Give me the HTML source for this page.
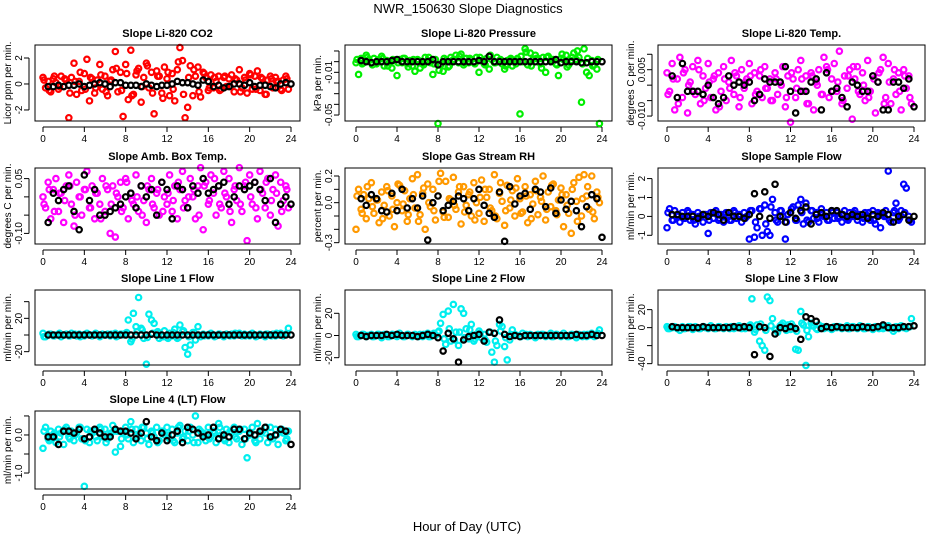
<!DOCTYPE html>
<html><head><meta charset="utf-8"><style>
html,body{margin:0;padding:0;background:#fff;}
svg{display:block;font-family:"Liberation Sans",sans-serif;}
</style></head><body>
<svg id="chart" width="936" height="540" viewBox="0 0 936 540">
<text x="468" y="13" text-anchor="middle" font-size="13">NWR_150630  Slope Diagnostics</text>
<text x="467" y="531" text-anchor="middle" font-size="13">Hour of Day (UTC)</text>
</svg>
<script>
const hoursColored = [0,0.25,0.5,0.75,1,1.25,1.5,1.75,2,2.25,2.5,2.75,3,3.25,3.5,3.75,4,4.25,4.5,4.75,5,5.25,5.5,5.75,6,6.25,6.5,6.75,7,7.25,7.5,7.75,8,8.25,8.5,8.75,9,9.25,9.5,9.75,10,10.25,10.5,10.75,11,11.25,11.5,11.75,12,12.25,12.5,12.75,13,13.25,13.5,13.75,14,14.25,14.5,14.75,15,15.25,15.5,15.75,16,16.25,16.5,16.75,17,17.25,17.5,17.75,18,18.25,18.5,18.75,19,19.25,19.5,19.75,20,20.25,20.5,20.75,21,21.25,21.5,21.75,22,22.25,22.5,22.75,23,23.25,23.5,23.75];
const hoursBlack = [0.5,1,1.5,2,2.5,3,3.5,4,4.5,5,5.5,6,6.5,7,7.5,8,8.5,9,9.5,10,10.5,11,11.5,12,12.5,13,13.5,14,14.5,15,15.5,16,16.5,17,17.5,18,18.5,19,19.5,20,20.5,21,21.5,22,22.5,23,23.5,24];
const hoursExtra = [0.1,0.6,1.1,1.6,2.1,2.6,3.1,3.6,4.1,4.6,5.1,5.6,6.1,6.6,7.1,7.6,8.1,8.6,9.1,9.6,10.1,10.6,11.1,11.6,12.1,12.6,13.1,13.6,14.1,14.6,15.1,15.6,16.1,16.6,17.1,17.6,18.1,18.6,19.1,19.6,20.1,20.6,21.1,21.6,22.1,22.6,23.1,23.6];
const xTicks = [0,4,8,12,16,20,24];

const co2Colored = [0.5,-0.3,0.2,-0.6,0.4,0.1,-0.4,0.6,-0.2,0.3,-2.6,0.5,1.6,-0.8,0.2,-0.5,0.8,1.9,-1.3,0.4,-0.7,0.3,1.5,-0.4,0.6,-0.9,0.2,1.1,2.5,-0.6,0.9,-2.5,1.5,-1.2,2.6,-0.8,0.7,1.2,-1.4,0.5,1.6,-0.3,0.9,-2.3,1.0,0.6,-0.7,1.3,0.4,-0.9,0.8,-1.3,1.1,2.8,1.8,-2.6,-1.8,1.4,-0.9,0.6,1.3,-1.0,0.9,0.5,-0.5,0.7,-0.3,0.2,0.6,-0.4,0.5,-0.2,0.4,0.7,-0.6,0.3,1.1,-0.3,0.5,-0.7,0.8,-0.4,0.6,1.0,-0.5,0.4,-0.8,0.3,0.6,-0.3,0.5,0.2,-0.4,0.3,0.6,-0.4];
const co2Extra = [0.3,-0.5,0.6,-0.2,0.4,-0.7,0.2,0.9,-0.4,0.5,-0.3,0.7,-0.6,0.3,1.2,-0.5,0.8,-0.9,1.0,-0.2,1.4,-0.7,0.6,-1.1,0.9,-0.4,1.7,-0.8,0.5,1.1,-0.6,0.8,-0.3,0.5,-0.5,0.6,-0.2,0.4,-0.6,0.3,0.7,-0.4,0.5,-0.8,0.4,0.2,-0.5,0.4];
const co2Black = [-0.2,-0.2,-0.1,-0.2,-0.1,-0.1,0,-0.2,-0.1,0,0.1,0,-0.2,0.1,0.1,-0.1,-0.1,-0.1,-0.2,0,-0.1,-0.2,-0.1,-0.1,0,0.2,0.1,0.1,0,-0.1,0.3,0.2,-0.2,-0.1,-0.3,-0.2,0,0,-0.1,0.1,-0.2,-0.1,-0.1,-0.2,-0.3,0,0.1,0];
const presColored = [-0.001,-0.012,0.003,-0.001,0.006,0.002,-0.001,0.003,-0.002,0.002,0.005,-0.004,0.001,-0.001,-0.006,0.001,-0.013,0.002,-0.001,0.003,-0.002,0.001,-0.004,-0.009,0.002,-0.006,-0.002,0.004,0.001,-0.001,-0.012,0.002,-0.058,-0.003,-0.009,0.001,-0.005,0.004,0.002,0.006,-0.001,0.007,-0.003,0.003,-0.001,0.002,-0.001,0.004,-0.010,0.001,-0.002,0.003,-0.007,0.002,-0.001,0.004,0.001,-0.002,-0.007,0.001,0.002,-0.004,0.001,0.003,-0.049,0.000,0.012,-0.003,0.008,0.002,0.006,0.003,-0.002,0.004,-0.010,0.005,0.001,0.002,-0.002,-0.013,0.003,0.002,0.006,-0.003,0.001,0.008,0.002,0.004,-0.038,0.012,-0.010,-0.013,0.001,-0.003,-0.007,-0.058];
const presExtra = [0.002,-0.002,0.004,-0.003,0.001,0.003,-0.004,0.002,-0.001,0.003,-0.005,0.002,0.001,-0.003,0.004,-0.002,-0.008,0.003,-0.004,0.002,0.005,-0.001,0.003,-0.002,0.004,-0.003,0.006,-0.001,0.002,-0.004,0.003,-0.002,0.005,0.009,-0.004,0.003,-0.006,0.004,0.002,-0.003,0.007,-0.005,0.004,0.010,-0.002,0.003,-0.004,0.002];
const presBlack = [0.001,0.000,-0.001,0.000,0.000,0.000,0.001,0.002,0.000,0.000,0.000,0.000,0.000,0.000,0.002,-0.003,0.000,0.000,0.000,0.000,0.000,0.000,0.000,0.001,0.000,0.005,0.000,0.000,0.000,0.000,0.000,0.000,0.000,0.000,0.000,0.000,0.000,0.000,0.002,-0.001,0.000,0.000,0.000,-0.001,-0.001,0.000,0.000,0.000];
const tempColored = [0.004,-0.002,0.007,-0.008,0.002,0.009,-0.004,0.005,-0.009,0.001,0.006,-0.003,0.008,-0.006,0.003,-0.001,0.007,-0.004,0.002,-0.008,0.004,-0.002,0.006,-0.005,0.001,0.008,-0.003,0.003,-0.007,0.005,-0.001,0.002,0.007,-0.006,0.004,-0.002,0.003,-0.004,0.006,-0.001,0.002,-0.005,0.004,-0.003,0.001,0.006,-0.007,0.003,-0.012,0.002,-0.004,0.005,0.008,-0.002,0.003,-0.006,0.004,-0.008,0.001,0.005,-0.003,0.009,0.006,-0.004,0.002,0.007,-0.002,0.011,-0.006,0.003,-0.001,0.005,-0.011,0.002,0.006,-0.003,0.004,-0.005,0.008,-0.002,0.003,-0.009,0.001,0.005,0.009,-0.004,0.007,-0.006,0.002,-0.003,0.004,-0.008,0.005,-0.001,0.003,-0.006];
const tempExtra = [-0.003,0.002,-0.006,0.004,0.000,-0.002,0.005,-0.005,0.001,0.003,-0.007,0.002,-0.001,0.004,-0.004,0.001,0.003,-0.003,0.005,-0.001,-0.005,0.002,0.000,-0.004,0.004,-0.001,0.002,-0.006,0.003,0.000,-0.003,0.005,-0.002,0.001,-0.005,0.003,0.006,-0.002,0.000,-0.004,0.002,0.004,-0.006,0.001,0.005,-0.002,0.003,-0.004];
const tempBlack = [0.003,-0.004,0.007,-0.002,-0.002,-0.002,-0.003,0.000,-0.004,-0.006,-0.004,0.003,0.000,0.001,0.000,0.001,-0.005,-0.003,0.002,0.001,0.001,0.001,0.006,-0.002,-0.009,-0.002,-0.002,0.001,0.002,-0.008,0.004,-0.002,-0.001,-0.004,-0.007,0.001,0.000,-0.002,-0.002,0.003,0.001,-0.008,-0.008,0.001,0.001,-0.001,0.002,-0.007];
const ambColored = [0.00,-0.03,0.04,-0.06,0.02,0.05,-0.04,0.01,-0.07,0.03,0.06,-0.02,-0.08,0.04,0.00,-0.05,0.02,0.07,-0.03,0.03,-0.06,0.01,-0.02,0.05,-0.04,0.02,-0.10,0.03,-0.11,0.00,0.04,-0.03,0.05,-0.06,0.01,-0.02,0.06,-0.04,0.03,-0.01,-0.07,0.02,0.05,-0.03,0.01,-0.05,0.04,0.00,-0.02,0.06,-0.04,0.03,-0.06,0.02,0.07,-0.01,-0.03,0.05,0.00,-0.06,0.03,0.08,-0.09,0.04,-0.02,0.06,0.01,-0.05,0.03,-0.03,0.07,0.00,0.05,-0.07,0.02,-0.01,0.08,-0.04,0.03,-0.12,0.06,-0.02,0.04,-0.06,0.07,0.01,-0.03,0.05,-0.05,0.02,0.06,-0.08,0.04,-0.01,0.03,-0.03];
const ambExtra = [-0.02,0.02,-0.04,0.01,-0.01,0.03,-0.05,0.00,0.02,-0.03,0.01,-0.06,0.03,-0.02,0.01,-0.04,0.04,-0.01,0.00,-0.05,0.03,-0.02,0.02,-0.04,0.01,-0.01,0.04,-0.03,0.00,0.02,-0.05,0.03,-0.01,0.05,-0.02,0.01,-0.04,0.03,-0.02,0.04,0.00,-0.03,0.02,0.04,-0.01,0.01,-0.04,0.02];
const ambBlack = [-0.07,0.01,-0.01,0.02,0.03,-0.04,-0.09,0.06,-0.01,0.02,-0.05,-0.05,-0.04,-0.03,-0.02,0.00,0.01,-0.03,0.03,0.00,0.02,-0.05,0.04,0.02,-0.06,0.03,0.02,-0.03,0.03,0.01,0.05,0.01,0.02,0.03,0.04,-0.02,0.00,0.03,0.02,0.03,0.04,0.02,-0.01,0.05,-0.07,-0.02,0.00,-0.02];
const rhColored = [-0.20,0.10,-0.05,0.06,-0.12,0.03,0.15,-0.08,0.02,-0.15,0.08,-0.02,0.12,-0.10,0.05,-0.18,0.00,0.13,-0.06,0.09,-0.14,0.03,0.18,-0.04,0.21,-0.09,0.07,-0.20,0.14,-0.03,0.10,-0.13,0.05,0.22,-0.07,0.16,-0.11,0.02,0.19,-0.05,0.08,-0.16,0.12,-0.02,0.06,-0.10,0.15,0.00,-0.08,0.17,-0.14,0.04,0.10,-0.06,0.21,-0.12,0.07,0.01,-0.17,0.13,-0.04,0.09,-0.10,0.18,0.03,-0.07,0.12,-0.15,0.06,-0.01,0.16,-0.09,0.04,0.20,-0.13,0.08,-0.03,0.14,-0.06,0.02,0.11,-0.18,0.06,-0.08,-0.23,0.15,0.01,0.19,-0.10,0.21,0.05,-0.05,0.20,-0.12,0.08,0.00];
const rhExtra = [0.05,-0.08,0.12,-0.03,0.02,-0.12,0.09,-0.05,0.14,-0.01,-0.09,0.06,-0.14,0.11,0.00,-0.06,0.16,-0.11,0.03,-0.02,0.12,-0.07,0.08,-0.13,0.04,0.10,-0.04,-0.10,0.15,-0.06,0.02,0.11,-0.08,0.05,-0.12,0.09,0.01,-0.05,0.13,-0.09,0.06,-0.02,0.10,-0.14,0.03,0.12,-0.07,0.04];
const rhBlack = [0.03,-0.02,0.06,0.03,-0.06,-0.07,0.07,-0.06,0.10,-0.04,0.03,-0.04,0.05,-0.28,0.00,0.05,-0.06,-0.02,0.01,0.05,0.03,-0.06,0.03,0.10,-0.02,-0.08,-0.11,0.08,-0.29,0.12,-0.01,0.05,0.07,-0.05,0.10,0.08,-0.03,0.11,-0.08,0.02,-0.05,0.01,-0.06,-0.18,-0.03,0.06,0.03,-0.26];
const flowColored = [-0.6,0.4,-0.2,0.3,0.0,-0.3,0.2,-0.1,0.3,-0.2,0.1,-0.4,0.2,0.0,-0.3,0.1,-0.9,0.2,-0.1,0.3,-0.2,0.1,-0.3,0.2,0.0,-0.2,0.3,-0.1,0.1,-0.3,0.2,0.0,-1.2,0.3,-1.1,-0.6,0.4,-1.0,0.6,-0.8,-1.0,0.9,0.2,-0.3,0.3,0.0,-1.2,0.1,0.2,0.5,-0.2,0.6,0.9,-0.4,0.7,-0.3,0.3,-0.1,0.2,-0.3,0.4,0.0,0.2,-0.2,0.3,-0.1,0.2,0.0,-0.3,0.3,-0.1,0.2,0.0,0.3,-0.2,0.1,-0.3,0.2,0.0,-0.2,0.3,-0.4,0.2,-0.6,0.1,0.3,2.4,-0.3,0.2,0.7,-0.2,0.3,1.7,1.5,0.0,-0.3];
const flowExtra = [0.2,-0.2,0.1,-0.1,0.2,-0.2,0.0,0.1,-0.2,0.2,-0.1,0.1,-0.2,0.2,0.0,-0.1,0.3,-0.3,0.4,-0.4,0.5,-0.2,0.3,-0.3,0.4,-0.2,0.2,-0.2,0.3,-0.1,0.1,-0.2,0.2,-0.1,0.1,-0.2,0.2,0.0,-0.1,0.2,-0.2,0.1,0.0,-0.2,0.3,-0.1,0.2,-0.2];
const flowBlack = [0.1,0.1,0.0,0.0,0.0,-0.1,0.1,0.0,0.2,0.1,-0.2,0.2,0.0,0.0,-0.1,0.1,1.2,0.0,1.3,-0.1,1.7,0.0,-0.3,0.2,-0.1,0.3,0.5,-0.4,0.1,0.2,0.0,0.3,0.3,0.1,0.0,0.1,0.0,0.1,-0.1,0.1,0.0,0.2,0.1,-0.3,0.0,0.1,-0.2,0.0];
const line1Colored = [2,-2,0,1,-1,0,1,-2,0,1,-1,2,0,-1,1,0,-1,2,0,-1,1,0,-2,1,0,1,-1,0,2,-1,1,0,2,18,-8,26,10,45,8,-4,-35,25,18,14,3,-4,-2,5,-3,2,-1,7,-4,12,4,-15,-23,-12,3,-6,10,-2,1,0,-1,2,0,-1,1,0,-2,1,0,1,-1,0,2,-1,1,0,-1,2,0,-1,1,0,-2,1,0,1,-1,0,2,-1,1,8];
const line1Extra = [-2,1,-1,2,0,-1,1,-2,1,0,2,-1,0,1,-2,1,3,-5,4,6,-3,2,4,-2,-4,3,-3,5,-2,3,0,-1,1,-2,1,0,-1,2,0,-1,1,-2,0,1,-1,2,0,1];
const line1Black = [0,0,0,0,0,0,0,0,0,0,0,0,0,0,0,0,0,0,0,0,1,0,0,0,0,0,0,0,0,0,0,0,0,0,0,0,0,0,0,0,0,0,0,0,0,0,0,0];
const line2Colored = [1,-1,0,1,-1,0,1,-1,0,1,-2,1,0,-1,1,0,-1,2,0,-1,1,0,-1,1,0,1,-1,0,2,-1,1,0,3,11,19,-8,22,-5,28,3,-9,24,20,6,-3,10,-5,1,4,-2,1,-6,3,-15,-24,-9,10,8,-10,-22,-4,5,1,0,-1,2,0,-1,1,0,-2,1,0,1,-1,0,2,-1,1,0,-1,2,0,-1,1,0,-2,1,0,1,-1,0,2,-1,1,5];
const line2Extra = [-1,1,0,-1,1,0,-1,1,0,-1,1,0,-1,1,-1,2,4,-3,6,-4,3,-2,5,-3,2,-4,3,-5,4,-2,1,0,-1,1,0,-1,1,0,-1,1,0,-1,1,0,-1,1,0,2];
const line2Black = [0,-1,0,0,0,1,0,1,0,0,0,-1,0,1,0,-2,-14,2,-3,-24,-4,-1,0,1,-5,3,2,14,1,-1,0,-1,0,0,0,0,0,0,0,0,0,0,1,0,0,1,0,0];
const line3Colored = [1,-1,0,1,-1,-3,1,-1,0,1,-2,1,0,-1,1,0,-1,2,0,-1,1,0,-1,1,0,1,-1,0,2,-1,1,0,2,32,-5,3,-15,-20,-25,34,30,10,-2,-5,2,5,1,3,-2,1,-24,-25,18,3,-42,-10,5,2,-1,3,0,-1,1,0,-2,1,0,1,-1,0,2,-1,1,0,-1,2,0,-1,1,0,-2,1,0,1,-1,0,2,-1,-4,1,-1,2,0,-1,1,10];
const line3Extra = [-1,1,0,-1,1,0,-1,1,0,-1,1,0,-1,1,0,-1,3,-2,4,-3,2,-2,3,-3,4,-4,5,-3,2,-2,1,0,-1,1,0,-1,1,0,-1,1,0,-1,1,0,-1,1,0,1];
const line3Black = [1,0,0,0,0,0,1,0,0,0,0,0,1,0,1,0,-30,1,0,-32,-7,0,-1,1,-1,-13,12,10,7,-1,1,0,1,0,0,0,0,1,0,0,1,3,0,0,0,1,1,2];
const line4Colored = [-0.35,0.2,-0.1,0.1,0.0,-0.2,0.15,0.05,-0.25,0.2,-0.05,0.1,-0.15,0.05,0.2,-0.1,-1.35,0.15,-0.2,0.05,0.1,-0.15,0.2,-0.05,0.15,-0.1,0.0,0.25,-0.45,0.1,-0.3,0.05,0.2,-0.1,0.35,-0.2,0.15,0.0,-0.15,0.2,0.05,-0.25,0.1,-0.05,0.2,-0.15,0.1,0.0,0.2,-0.1,0.15,-0.2,0.05,0.25,-0.1,0.1,-0.15,0.2,0.0,0.5,-0.2,0.1,0.05,-0.15,0.2,-0.05,0.1,-0.2,0.3,0.0,-0.1,0.15,-0.2,0.05,0.2,-0.1,0.1,-0.25,0.15,-0.6,0.0,0.2,-0.15,0.3,-0.1,0.1,0.05,-0.2,0.2,-0.1,0.15,-0.25,0.1,0.05,-0.15,0.1];
const line4Extra = [0.1,-0.15,0.05,-0.05,0.15,-0.1,0.0,0.2,-0.15,0.1,-0.05,0.15,-0.2,0.05,0.1,-0.1,0.0,0.15,-0.05,0.2,-0.1,0.05,-0.2,0.1,0.0,-0.15,0.2,-0.05,0.1,-0.2,0.15,0.0,-0.1,0.05,0.2,-0.15,0.1,-0.05,0.15,-0.1,0.05,-0.2,0.1,0.2,-0.05,0.0,0.15,-0.1];
const line4Black = [-0.05,-0.05,-0.25,0.1,0.1,0.05,0.15,-0.1,-0.05,0.15,0.05,-0.05,-0.05,0.15,0.1,0.1,0.05,-0.1,0.05,0.35,-0.05,-0.15,0.05,-0.15,0.0,0.1,-0.2,0.2,0.15,0.05,-0.05,0.0,0.2,-0.1,0.0,-0.05,0.15,0.15,-0.1,0.05,0.0,0.1,0.2,-0.05,0.0,0.15,0.1,-0.25];

const panels = [
 {title:"Slope Li-820 CO2", ylab:"Licor ppm per min.", col:"#ff0000", c:co2Colored, e:co2Extra, b:co2Black, ymin:-2.85, ymax:3.0, ticks:[-2,0,2], labels:["-2","0","2"], box:[35,45,300,121], x0:43, x1:291},
 {title:"Slope Li-820 Pressure", ylab:"kPa per min.", col:"#00ee00", c:presColored, e:presExtra, b:presBlack, ymin:-0.0556, ymax:0.0156, ticks:[0.01,0,-0.01,-0.02,-0.03,-0.04,-0.05], labels:["","","-0.01","","","","-0.05"], box:[345,45,612,121], x0:356, x1:602},
 {title:"Slope Li-820 Temp.", ylab:"degrees C per min.", col:"#ff00ff", c:tempColored, e:tempExtra, b:tempBlack, ymin:-0.0116, ymax:0.013, ticks:[0.01,0.005,0,-0.005,-0.01], labels:["","0.005","","","-0.010"], box:[658,45,925,121], x0:667, x1:914},
 {title:"Slope Amb. Box Temp.", ylab:"degrees C per min.", col:"#ff00ff", c:ambColored, e:ambExtra, b:ambBlack, ymin:-0.129, ymax:0.079, ticks:[0.05,0,-0.05,-0.1], labels:["0.05","","","-0.10"], box:[35,168,300,244], x0:43, x1:291},
 {title:"Slope Gas Stream RH", ylab:"percent per min.", col:"#ff9900", c:rhColored, e:rhExtra, b:rhBlack, ymin:-0.31, ymax:0.26, ticks:[0.2,0.1,0,-0.1,-0.2,-0.3], labels:["0.2","","0.0","","","-0.3"], box:[345,168,612,244], x0:356, x1:602},
 {title:"Slope Sample Flow", ylab:"ml/min per min.", col:"#0000ff", c:flowColored, e:flowExtra, b:flowBlack, ymin:-1.46, ymax:2.56, ticks:[2,1,0,-1], labels:["2","1","0","-1"], box:[658,168,925,244], x0:667, x1:914},
 {title:"Slope Line 1 Flow", ylab:"ml/min per min.", col:"#00eeee", c:line1Colored, e:line1Extra, b:line1Black, ymin:-36, ymax:54, ticks:[40,20,0,-20], labels:["","20","","-20"], box:[35,290,300,365], x0:43, x1:291},
 {title:"Slope Line 2 Flow", ylab:"ml/min per min.", col:"#00eeee", c:line2Colored, e:line2Extra, b:line2Black, ymin:-26.6, ymax:41, ticks:[20,0,-20], labels:["20","0","-20"], box:[345,290,612,365], x0:356, x1:602},
 {title:"Slope Line 3 Flow", ylab:"ml/min per min.", col:"#00eeee", c:line3Colored, e:line3Extra, b:line3Black, ymin:-41.5, ymax:41.8, ticks:[20,0,-20,-40], labels:["20","0","","-40"], box:[658,290,925,365], x0:667, x1:914},
 {title:"Slope Line 4 (LT) Flow", ylab:"ml/min per min.", col:"#00eeee", c:line4Colored, e:line4Extra, b:line4Black, ymin:-1.42, ymax:0.63, ticks:[0.5,0,-0.5,-1.0], labels:["","0.0","","-1.0"], box:[35,411,300,489], x0:43, x1:291}
];

const NS = "http://www.w3.org/2000/svg";
const svg = document.getElementById("chart");
function mk(tag, attrs, parent){const e=document.createElementNS(NS,tag);for(const k in attrs)e.setAttribute(k,attrs[k]);parent.appendChild(e);return e;}

panels.forEach((p,pi)=>{
  const [L,T,R,B]=p.box;
  const g=mk("g",{},svg);
  
  
  const xs=h=>p.x0+(h/24)*(p.x1-p.x0);
  const ys=v=>B-(v-p.ymin)/(p.ymax-p.ymin)*(B-T);
  const t=mk("text",{x:(L+R)/2,y:T-8,"text-anchor":"middle","font-size":"11","font-weight":"bold"},g);
  t.textContent=p.title;
  
  
  const yl=mk("text",{x:0,y:0,"text-anchor":"middle","font-size":"10",transform:`translate(${L-24},${(T+B)/2}) rotate(-90)`},g);
  yl.textContent=p.ylab;
  
  
  const xa=mk("g",{},g);
  
  
  mk("line",{x1:xs(0),x2:xs(24),y1:B+6,y2:B+6,stroke:"#000","stroke-width":1},xa);
  xTicks.forEach(h=>{
    mk("line",{x1:xs(h),x2:xs(h),y1:B+6,y2:B+11,stroke:"#000","stroke-width":1},xa);
    const tl=mk("text",{x:xs(h),y:B+21,"text-anchor":"middle","font-size":"10"},xa);
    tl.textContent=h;
    
    
  });
  const ya=mk("g",{},g);
  
  
  mk("line",{x1:L-6,x2:L-6,y1:ys(p.ticks[0]),y2:ys(p.ticks[p.ticks.length-1]),stroke:"#000","stroke-width":1},ya);
  p.ticks.forEach((v,i)=>{
    const y=ys(v);
    mk("line",{x1:L-11,x2:L-6,y1:y,y2:y,stroke:"#000","stroke-width":1},ya);
    if(p.labels[i]){
      const tl=mk("text",{x:0,y:0,"text-anchor":"middle","font-size":"10",transform:`translate(${L-13},${y}) rotate(-90)`},ya);
      tl.textContent=p.labels[i];
      
      
    }
  });
  const cg=mk("g",{fill:"none",stroke:p.col,"stroke-width":2.2},g);
  
  
  p.c.forEach((v,i)=>{
    const c=mk("circle",{cx:xs(hoursColored[i]),cy:ys(v),r:2.7},cg);
    
    
  });
  p.e.forEach((v,i)=>{
    const c=mk("circle",{cx:xs(hoursExtra[i]),cy:ys(v),r:2.7},cg);
    
    
  });
  const bg=mk("g",{fill:"none",stroke:"#000","stroke-width":2.2},g);
  
  
  p.b.forEach((v,i)=>{
    const c=mk("circle",{cx:xs(hoursBlack[i]),cy:ys(v),r:2.7},bg);
    
    
  });
  const box=mk("rect",{x:L,y:T,width:R-L,height:B-T,fill:"none",stroke:"#000","stroke-width":1},g);
  
  
});
</script>
</body></html>
